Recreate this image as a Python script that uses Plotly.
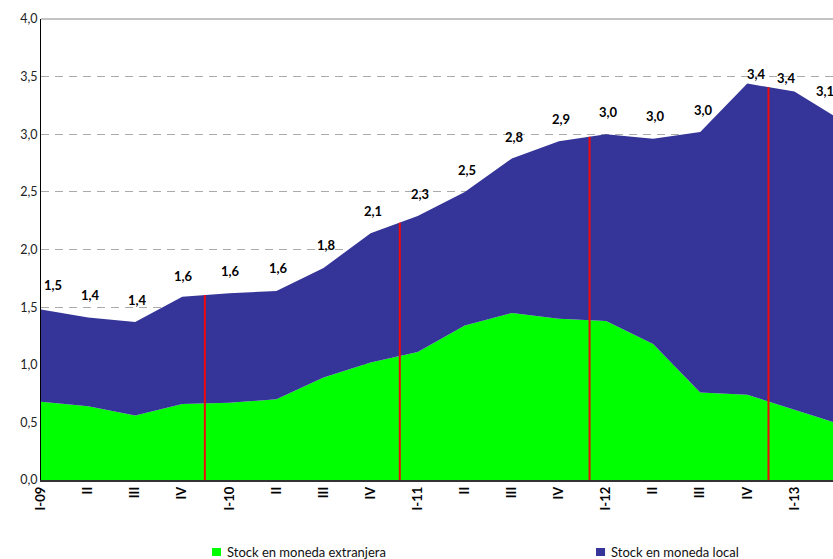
import numpy as np
import plotly.graph_objects as go

# Quarter labels (18 quarters; the last one falls past the visible edge)
quarters = ["I-09", "II", "III", "IV", "I-10", "II", "III", "IV",
            "I-11", "II", "III", "IV", "I-12", "II", "III", "IV", "I-13", "II"]
foreign = [0.68, 0.64, 0.56, 0.66, 0.67, 0.70, 0.89, 1.02, 1.11, 1.34,
           1.45, 1.40, 1.38, 1.18, 0.76, 0.74, 0.61, 0.48]
local = [0.80, 0.77, 0.81, 0.93, 0.95, 0.94, 0.95, 1.12, 1.18, 1.16,
         1.34, 1.54, 1.62, 1.78, 2.26, 2.70, 2.76, 2.64]
# Red marker lines (position in quarter units)
red_marks = [3.48, 7.62, 11.65, 15.45]

X_MAX = 16.82  # visible part of the time axis
x = list(range(len(quarters)))
totals = [round(a + b, 2) for a, b in zip(foreign, local)]

GREEN = "#00ff00"
BLUE = "#343499"
FONT = "Lato, 'Open Sans', sans-serif"

fig = go.Figure()
fig.add_trace(go.Scatter(x=x, y=foreign, stackgroup="s", mode="none",
                         fillcolor=GREEN, name="Stock en moneda extranjera",
                         showlegend=False, hoverinfo="skip"))
fig.add_trace(go.Scatter(x=x, y=local, stackgroup="s", mode="none",
                         fillcolor=BLUE, name="Stock en moneda local",
                         showlegend=False, hoverinfo="skip"))

# red vertical lines from the base to the top of the area
for m in red_marks:
    top = float(np.interp(m, x, totals))
    fig.add_shape(type="line", x0=m, x1=m, y0=-0.02, y1=top, xref="x", yref="y",
                  line=dict(color="#f00a0a", width=2), layer="above")

# top line of the plot
fig.add_shape(type="line", x0=0, x1=1, y0=1, y1=1, xref="paper", yref="paper",
              line=dict(color="#888888", width=1))

# value labels
yshifts = [24, 23, 22, 21, 22, 23, 23, 22, 22, 22, 21, 22, 22, 23, 22, 10, 14, 24]
xshifts = [12, 2, 2, 1, 1, 2, 3, 2, 2, 2, 3, 2, 2, 2, 3, 9, -8, -7]
for i, v in enumerate(totals):
    xi = min(i, X_MAX - 0.02)
    yi = float(np.interp(xi, x, totals)) if i > X_MAX else v
    fig.add_annotation(x=xi, y=yi, text=f"<b>{v:.1f}</b>".replace(".", ","),
                       showarrow=False, yshift=yshifts[i], xshift=xshifts[i],
                       font=dict(family=FONT, size=13, color="#000000"))

# legend built from annotations and swatches
legend_items = [("Stock en moneda extranjera", GREEN, 0.2159),
                ("Stock en moneda local", BLUE, 0.7008)]
for name, col, lx in legend_items:
    fig.add_shape(type="rect", xref="paper", yref="paper",
                  x0=lx, x1=lx + 0.0114, y0=-0.1649, y1=-0.1475,
                  fillcolor=col, line=dict(width=0))
    fig.add_annotation(xref="paper", yref="paper", x=lx + 0.0165, y=-0.156,
                       xanchor="left", yanchor="middle", showarrow=False,
                       text=name, font=dict(family=FONT, size=13, color="#111111"))

fig.update_layout(
    width=833, height=559,
    margin=dict(l=41, r=0, t=19, b=79),
    paper_bgcolor="white", plot_bgcolor="white",
    separators=",.",
    showlegend=False,
    xaxis=dict(range=[0, X_MAX], tickvals=x, ticktext=[f"<b>{q}</b>" for q in quarters],
               tickangle=-90, showgrid=False, zeroline=False,
               showline=True, linecolor="#333333", linewidth=1.5,
               ticks="", tickfont=dict(family=FONT, size=13, color="#000000")),
    yaxis=dict(range=[0, 4], dtick=0.5, tickformat=".1f",
               showgrid=True, gridcolor="#aaaaaa", griddash="8px,6px", gridwidth=1,
               zeroline=False, showline=True, linecolor="#000000", linewidth=1,
               ticks="", ticklen=0,
               tickfont=dict(family=FONT, size=12.5, color="#222222")),
)

fig.write_html("out.html",
               config={"displayModeBar": False, "staticPlot": True},
               post_script="document.body.style.margin='0';"
                           "document.body.style.overflow='hidden';")
